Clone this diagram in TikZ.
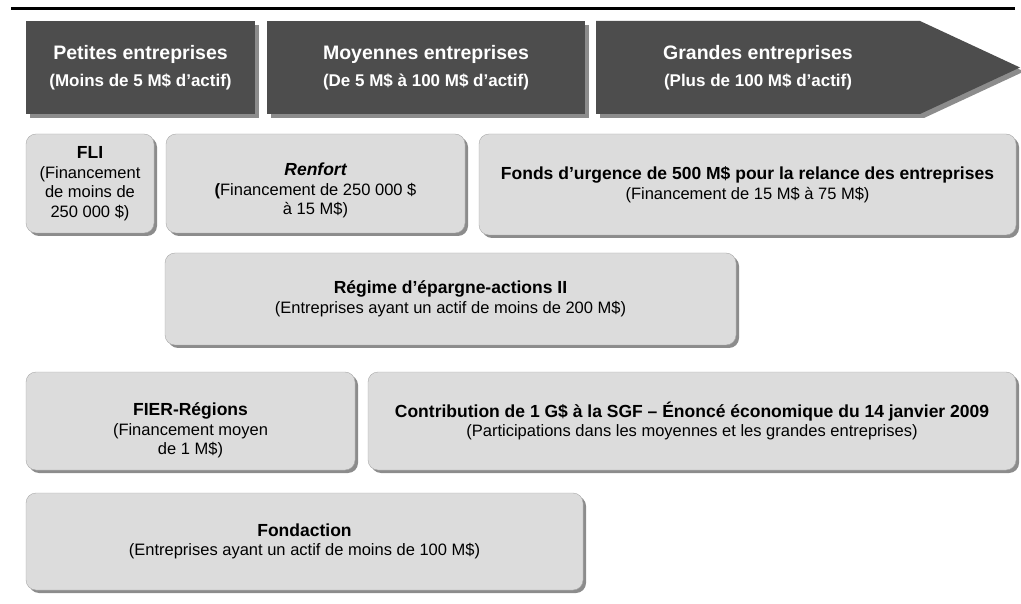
\documentclass[tikz,border=0pt]{standalone}
\usepackage{fontspec}
\setmainfont{Liberation Sans}
\usepackage{tikz}
\usetikzlibrary{shadows}

\definecolor{hdrgray}{HTML}{4D4D4D}
\definecolor{hdrshade}{HTML}{8C8C8C}
\definecolor{boxfill}{HTML}{DCDCDC}
\definecolor{boxedge}{HTML}{A8A8A8}
\definecolor{boxshade}{HTML}{8C8C8C}

\newcommand{\hdrtext}[2]{{\fontsize{19.5}{22}\selectfont #1}\\[7pt]#2}
\newcommand{\progtitle}[1]{{\fontsize{17.5}{19.5}\selectfont\bfseries #1}}

\tikzset{
  hdr/.style={fill=hdrgray, text=white, align=center, inner sep=0pt,
    font=\fontsize{17}{20}\selectfont\bfseries,
    drop shadow={shadow xshift=4pt, shadow yshift=-4pt, fill=hdrshade, opacity=1}},
  hdrlabel/.style={text=white, align=center, inner sep=0pt,
    font=\fontsize{17}{20}\selectfont\bfseries},
  prog/.style={draw=boxedge, fill=boxfill, rounded corners=10pt, align=center,
    inner sep=0pt, font=\fontsize{16.5}{19.5}\selectfont,
    drop shadow={shadow xshift=3pt, shadow yshift=-3pt, fill=boxshade, opacity=1}},
  progtext/.style={align=center, inner sep=0pt, font=\fontsize{16.5}{19.5}\selectfont}
}

\begin{document}
\begin{tikzpicture}[x=1pt, y=-1pt]
  \useasboundingbox (0,0) rectangle (1021,604);

  \draw[line width=3pt] (11,8.5) -- (1015,8.5);

  \node[hdr, minimum width=229pt, minimum height=93pt] (petites) at (140.5,67.5)
    {\hdrtext{Petites entreprises}{(Moins de 5 M\$ d’actif)}};
  \node[hdr, minimum width=318pt, minimum height=93pt] (moyennes) at (426,67.5)
    {\hdrtext{Moyennes entreprises}{(De 5 M\$ à 100 M\$ d’actif)}};
  \fill[hdrgray, drop shadow={shadow xshift=4pt, shadow yshift=-4pt, fill=hdrshade, opacity=1}]
    (596,21) -- (920,21) -- (1020,67.5) -- (920,114) -- (596,114) -- cycle;
  \node[hdrlabel] (grandes) at (758,67.5)
    {\hdrtext{Grandes entreprises}{(Plus de 100 M\$ d’actif)}};

  \node[prog, minimum width=128pt, minimum height=99pt] (fli) at (90,183.5)
    {\progtitle{FLI}\\(Financement\\de moins de\\250 000 \$)};
  \node[prog, minimum width=299pt, minimum height=99pt] (renfort) at (315.5,183.5) {};
  \node[progtext] (renforttext) at ([yshift=-7pt]renfort.center)
    {\progtitle{\itshape Renfort}\\\textbf{(}Financement de 250 000 \$\\à 15 M\$)};
  \node[prog, minimum width=537pt, minimum height=101pt] (fonds) at (747.5,184.5)
    {\progtitle{Fonds d’urgence de 500 M\$ pour la relance des entreprises}\\(Financement de 15 M\$ à 75 M\$)};

  \node[prog, minimum width=571pt, minimum height=92pt] (rea) at (450.5,299)
    {\progtitle{Régime d’épargne-actions II}\\(Entreprises ayant un actif de moins de 200 M\$)};

  \node[prog, minimum width=329pt, minimum height=98pt] (fier) at (190.5,421) {};
  \node[progtext] (fiertext) at ([yshift=-9.5pt]fier.center)
    {\progtitle{FIER-Régions}\\(Financement moyen\\de 1 M\$)};
  \node[prog, minimum width=648pt, minimum height=98pt] (sgf) at (692,421)
    {\progtitle{Contribution de 1 G\$ à la SGF – Énoncé économique du 14 janvier 2009}\\(Participations dans les moyennes et les grandes entreprises)};

  \node[prog, minimum width=557pt, minimum height=97pt] (fondaction) at (304.5,541.5)
    {\progtitle{Fondaction}\\(Entreprises ayant un actif de moins de 100 M\$)};
\end{tikzpicture}
\end{document}
